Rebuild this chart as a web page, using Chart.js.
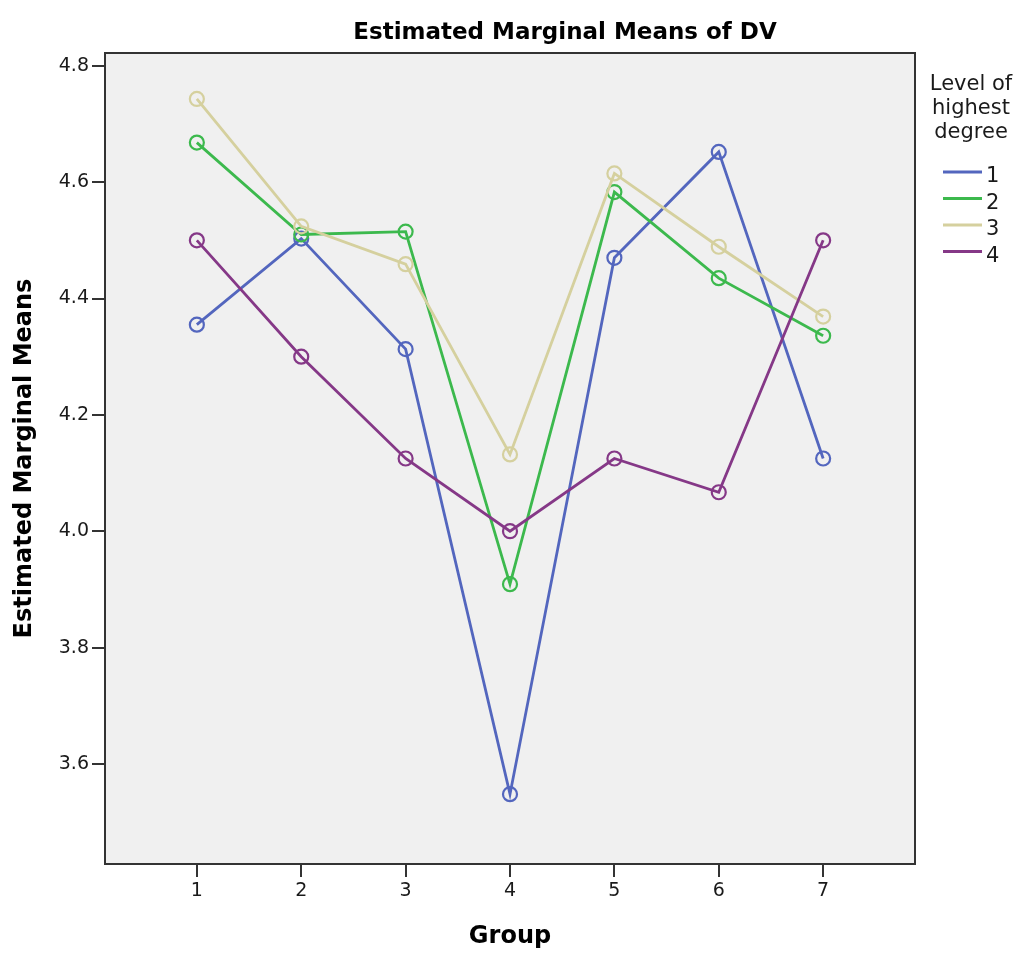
<!DOCTYPE html>
<html>
<head>
<meta charset="utf-8">
<title>Estimated Marginal Means of DV</title>
<script src="https://cdn.jsdelivr.net/npm/chart.js@4.4.1/dist/chart.umd.min.js"></script>
<style>
  html, body { margin: 0; padding: 0; background: #fff; }
  canvas { display: block; }
</style>
</head>
<body>
<canvas id="emm" width="1019" height="954"></canvas>
<script>
// Group levels on the x axis
var GROUPS = [1, 2, 3, 4, 5, 6, 7];
// Estimated marginal means per level of highest degree
var DEGREE_1 = [4.355, 4.503, 4.313, 3.548, 4.470, 4.652, 4.125];
var DEGREE_2 = [4.668, 4.510, 4.515, 3.909, 4.583, 4.435, 4.336];
var DEGREE_3 = [4.743, 4.524, 4.459, 4.132, 4.615, 4.489, 4.369];
var DEGREE_4 = [4.500, 4.300, 4.125, 4.000, 4.125, 4.067, 4.500];
var LEVELS = ["1", "2", "3", "4"];
var Y_TICKS = [3.6, 3.8, 4.0, 4.2, 4.4, 4.6, 4.8];

var COLORS = ["#5366be", "#3cb94d", "#d5d09e", "#853887"];
var FONT = "'DejaVu Sans', 'Liberation Sans', Arial, sans-serif";

function points(values) {
  return GROUPS.map(function (g, i) { return { x: g, y: values[i] }; });
}

var seriesValues = [DEGREE_1, DEGREE_2, DEGREE_3, DEGREE_4];

// fond gris + cadre + titre + légende façon SPSS
var spssFrame = {
  id: "spssFrame",
  beforeDraw: function (chart) {
    var ctx = chart.ctx, a = chart.chartArea;
    ctx.save();
    ctx.fillStyle = "#ffffff";
    ctx.fillRect(0, 0, chart.width, chart.height);
    ctx.fillStyle = "#f0f0f0";
    ctx.fillRect(a.left, a.top, a.right - a.left, a.bottom - a.top);
    ctx.restore();
  },
  afterDraw: function (chart) {
    var ctx = chart.ctx, a = chart.chartArea;
    ctx.save();
    ctx.strokeStyle = "#333";
    ctx.lineWidth = 2;
    ctx.strokeRect(a.left, a.top, a.right - a.left, a.bottom - a.top);

    ctx.fillStyle = "#000";
    ctx.textAlign = "center";
    ctx.textBaseline = "alphabetic";
    ctx.font = "bold 23px " + FONT;
    ctx.fillText("Estimated Marginal Means of DV", 565, 39);

    ctx.fillStyle = "#1a1a1a";
    ctx.font = "21px " + FONT;
    ctx.fillText("Level of", 971, 90);
    ctx.fillText("highest", 971, 114);
    ctx.fillText("degree", 971, 138);

    ctx.textAlign = "left";
    chart.data.datasets.forEach(function (ds, i) {
      var y = 172 + i * 26.5;
      ctx.strokeStyle = ds.borderColor;
      ctx.lineWidth = 3;
      ctx.beginPath();
      ctx.moveTo(943, y);
      ctx.lineTo(982, y);
      ctx.stroke();
      ctx.fillStyle = "#1a1a1a";
      ctx.fillText(ds.label, 986, y + 10);
    });
    ctx.restore();
  }
};

new Chart(document.getElementById("emm"), {
  type: "line",
  data: {
    datasets: seriesValues.map(function (vals, i) {
      return {
        label: LEVELS[i],
        data: points(vals),
        borderColor: COLORS[i],
        backgroundColor: "rgba(0,0,0,0)",
        borderWidth: 2.8,
        pointRadius: 7,
        pointBorderWidth: 2.2,
        pointBackgroundColor: "rgba(0,0,0,0)",
        pointBorderColor: COLORS[i],
        tension: 0,
        order: 4 - i
      };
    })
  },
  options: {
    responsive: false,
    animation: false,
    layout: { padding: { top: 53, right: 104, left: 0, bottom: 0 } },
    plugins: {
      legend: { display: false },
      title: { display: false },
      tooltip: { enabled: false }
    },
    scales: {
      x: {
        type: "linear",
        min: 0.12,
        max: 7.88,
        afterBuildTicks: function (s) { s.ticks = GROUPS.map(function (v) { return { value: v }; }); },
        afterFit: function (s) { s.height = 90; },
        grid: { drawOnChartArea: false, drawTicks: true, tickLength: 13, color: "#333", lineWidth: 2 },
        border: { display: true, color: "#333", width: 2 },
        ticks: { color: "#1a1a1a", font: { family: FONT, size: 19 }, padding: 3, maxRotation: 0 },
        title: { display: true, text: "Group", color: "#000", font: { family: FONT, size: 24, weight: "bold" }, padding: { top: 4, bottom: 3 } }
      },
      y: {
        min: 3.428,
        max: 4.822,
        afterBuildTicks: function (s) { s.ticks = Y_TICKS.map(function (v) { return { value: v }; }); },
        afterFit: function (s) { s.width = 105; },
        grid: { drawOnChartArea: false, drawTicks: true, tickLength: 13, color: "#333", lineWidth: 2 },
        border: { display: true, color: "#333", width: 2 },
        ticks: { color: "#1a1a1a", font: { family: FONT, size: 19 }, padding: 3, callback: function (v) { return v.toFixed(1); } },
        title: { display: true, text: "Estimated Marginal Means", color: "#000", font: { family: FONT, size: 24, weight: "bold" }, padding: { top: 10, bottom: 0 } }
      }
    }
  },
  plugins: [spssFrame]
});
</script>
</body>
</html>
